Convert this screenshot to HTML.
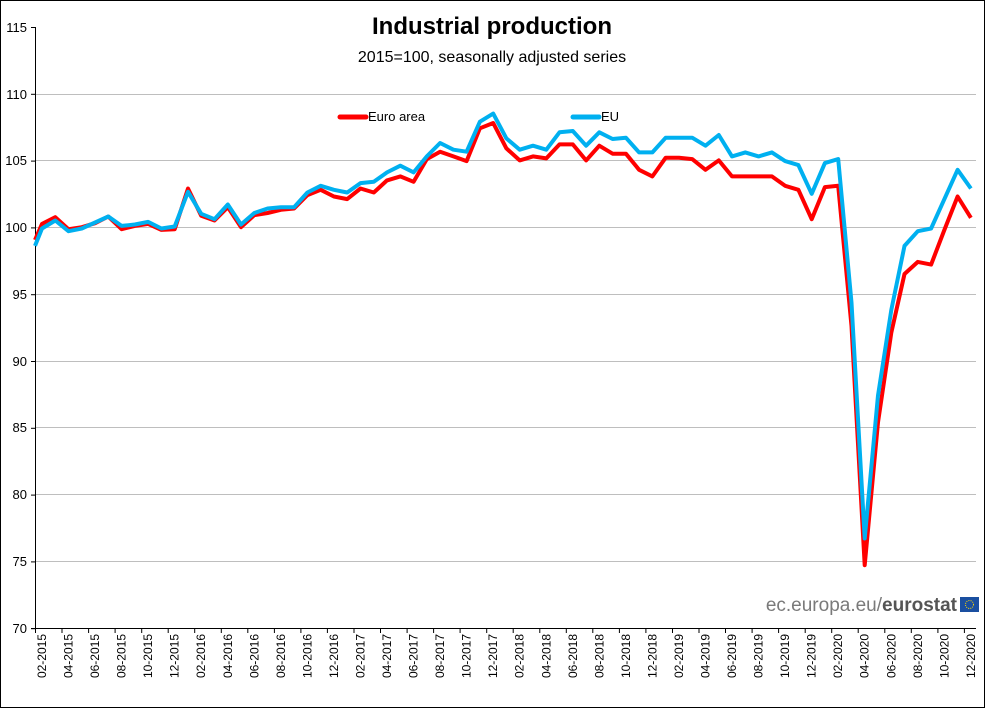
<!DOCTYPE html>
<html><head><meta charset="utf-8"><style>
body{margin:0;background:#fff}
svg{display:block;font-family:"Liberation Sans",Arial,sans-serif}
</style></head><body>
<svg id="s" width="985" height="708" viewBox="0 0 985 708" xmlns="http://www.w3.org/2000/svg">
<rect x="0.5" y="0.5" width="984" height="707" fill="#fff" stroke="#000"/>
<g stroke="#bebebe" stroke-width="1">
<line x1="35" x2="976" y1="94.5" y2="94.5"/><line x1="35" x2="976" y1="160.5" y2="160.5"/><line x1="35" x2="976" y1="227.5" y2="227.5"/><line x1="35" x2="976" y1="294.5" y2="294.5"/><line x1="35" x2="976" y1="361.5" y2="361.5"/><line x1="35" x2="976" y1="427.5" y2="427.5"/><line x1="35" x2="976" y1="494.5" y2="494.5"/><line x1="35" x2="976" y1="561.5" y2="561.5"/>
</g>
<g id="ticks" stroke="#000"></g>
<line x1="35.5" y1="27" x2="35.5" y2="628" stroke="#000"/>
<line x1="31" y1="628.5" x2="976" y2="628.5" stroke="#000"/>
<g font-size="13" text-anchor="end" fill="#000">
<text x="27" y="32">115</text><text x="27" y="99">110</text><text x="27" y="165">105</text><text x="27" y="232">100</text><text x="27" y="299">95</text><text x="27" y="366">90</text><text x="27" y="432">85</text><text x="27" y="499">80</text><text x="27" y="566">75</text><text x="27" y="633">70</text>
</g>
<text x="492" y="34" font-size="24" font-weight="bold" text-anchor="middle">Industrial production</text>
<text x="492" y="62" font-size="16" text-anchor="middle">2015=100, seasonally adjusted series</text>
<line x1="340" y1="117" x2="366" y2="117" stroke="#f00" stroke-width="5" stroke-linecap="round"/>
<text x="368" y="121" font-size="13">Euro area</text>
<line x1="573" y1="117" x2="599" y2="117" stroke="#00b0f0" stroke-width="5" stroke-linecap="round"/>
<text x="601" y="121" font-size="13">EU</text>
<text x="957" y="611" font-size="19" text-anchor="end" fill="#7a7a7a">ec.europa.eu/<tspan font-weight="bold" fill="#555">eurostat</tspan></text>
<rect x="960" y="597" width="19" height="15" fill="#1a4fa0"/>
<circle cx="969.5" cy="604.5" r="4" fill="none" stroke="#ffd700" stroke-width="1" stroke-dasharray="1 1.2"/>
<polyline id="red" fill="none" stroke="#f00" stroke-width="4" stroke-linejoin="round"/>
<polyline id="blue" fill="none" stroke="#00b0f0" stroke-width="4" stroke-linejoin="round"/>
<g font-size="12" text-anchor="end" id="lab">
<text transform="translate(46,634) rotate(-90)">02-2015</text>
<text transform="translate(72.5,634) rotate(-90)">04-2015</text>
<text transform="translate(99.1,634) rotate(-90)">06-2015</text>
<text transform="translate(125.6,634) rotate(-90)">08-2015</text>
<text transform="translate(152.2,634) rotate(-90)">10-2015</text>
<text transform="translate(178.7,634) rotate(-90)">12-2015</text>
<text transform="translate(205.2,634) rotate(-90)">02-2016</text>
<text transform="translate(231.8,634) rotate(-90)">04-2016</text>
<text transform="translate(258.3,634) rotate(-90)">06-2016</text>
<text transform="translate(284.9,634) rotate(-90)">08-2016</text>
<text transform="translate(311.4,634) rotate(-90)">10-2016</text>
<text transform="translate(337.9,634) rotate(-90)">12-2016</text>
<text transform="translate(364.5,634) rotate(-90)">02-2017</text>
<text transform="translate(391,634) rotate(-90)">04-2017</text>
<text transform="translate(417.6,634) rotate(-90)">06-2017</text>
<text transform="translate(444.1,634) rotate(-90)">08-2017</text>
<text transform="translate(470.6,634) rotate(-90)">10-2017</text>
<text transform="translate(497.2,634) rotate(-90)">12-2017</text>
<text transform="translate(523.7,634) rotate(-90)">02-2018</text>
<text transform="translate(550.3,634) rotate(-90)">04-2018</text>
<text transform="translate(576.8,634) rotate(-90)">06-2018</text>
<text transform="translate(603.3,634) rotate(-90)">08-2018</text>
<text transform="translate(629.9,634) rotate(-90)">10-2018</text>
<text transform="translate(656.4,634) rotate(-90)">12-2018</text>
<text transform="translate(683,634) rotate(-90)">02-2019</text>
<text transform="translate(709.5,634) rotate(-90)">04-2019</text>
<text transform="translate(736,634) rotate(-90)">06-2019</text>
<text transform="translate(762.6,634) rotate(-90)">08-2019</text>
<text transform="translate(789.1,634) rotate(-90)">10-2019</text>
<text transform="translate(815.7,634) rotate(-90)">12-2019</text>
<text transform="translate(842.2,634) rotate(-90)">02-2020</text>
<text transform="translate(868.7,634) rotate(-90)">04-2020</text>
<text transform="translate(895.3,634) rotate(-90)">06-2020</text>
<text transform="translate(921.8,634) rotate(-90)">08-2020</text>
<text transform="translate(948.4,634) rotate(-90)">10-2020</text>
<text transform="translate(974.9,634) rotate(-90)">12-2020</text>
</g>
</svg>
<script>
var R=[100.25,100.75,99.85,100.0,100.3,100.8,99.85,100.1,100.25,99.8,99.85,102.9,100.85,100.5,101.5,100.0,100.9,101.06,101.3,101.4,102.4,102.8,102.3,102.1,102.9,102.6,103.5,103.8,103.4,105.1,105.65,105.3,104.95,107.4,107.8,105.9,105.0,105.3,105.15,106.2,106.2,105.0,106.1,105.5,105.5,104.3,103.8,105.2,105.2,105.1,104.3,105.0,103.8,103.8,103.8,103.8,103.1,102.8,100.6,103.0,103.1,92.6,74.7,85.4,92.1,96.5,97.4,97.2,99.8,102.3,100.7];
var B=[99.9,100.5,99.7,99.9,100.35,100.8,100.1,100.2,100.4,99.9,100.05,102.65,101.0,100.6,101.7,100.2,101.06,101.4,101.5,101.5,102.6,103.1,102.8,102.6,103.3,103.4,104.1,104.6,104.1,105.3,106.3,105.8,105.65,107.9,108.5,106.65,105.8,106.1,105.8,107.1,107.2,106.1,107.1,106.6,106.7,105.6,105.6,106.7,106.7,106.7,106.1,106.9,105.3,105.6,105.3,105.6,104.95,104.65,102.5,104.8,105.1,94.35,76.7,87.4,93.8,98.6,99.7,99.9,102.1,104.3,102.9];
function Y(v){return (628-(v-70)*13.36).toFixed(1)}
function pts(a,s){var p=["35,"+Y(s)];for(var i=0;i<a.length;i++)p.push((42+13.27*i).toFixed(1)+","+Y(a[i]));return p.join(" ")}
document.getElementById("red").setAttribute("points",pts(R,99.05));
document.getElementById("blue").setAttribute("points",pts(B,98.6));
var t="";for(var k=0;k<=36;k++){var x=(35.5+26.54*k).toFixed(1);t+='<line x1="'+x+'" x2="'+x+'" y1="628" y2="633"/>';}
for(var j=0;j<10;j++){var y=(27.5+66.8*j).toFixed(1);t+='<line x1="31" x2="35" y1="'+y+'" y2="'+y+'"/>';}
document.getElementById("ticks").innerHTML=t;
</script>
</body></html>
